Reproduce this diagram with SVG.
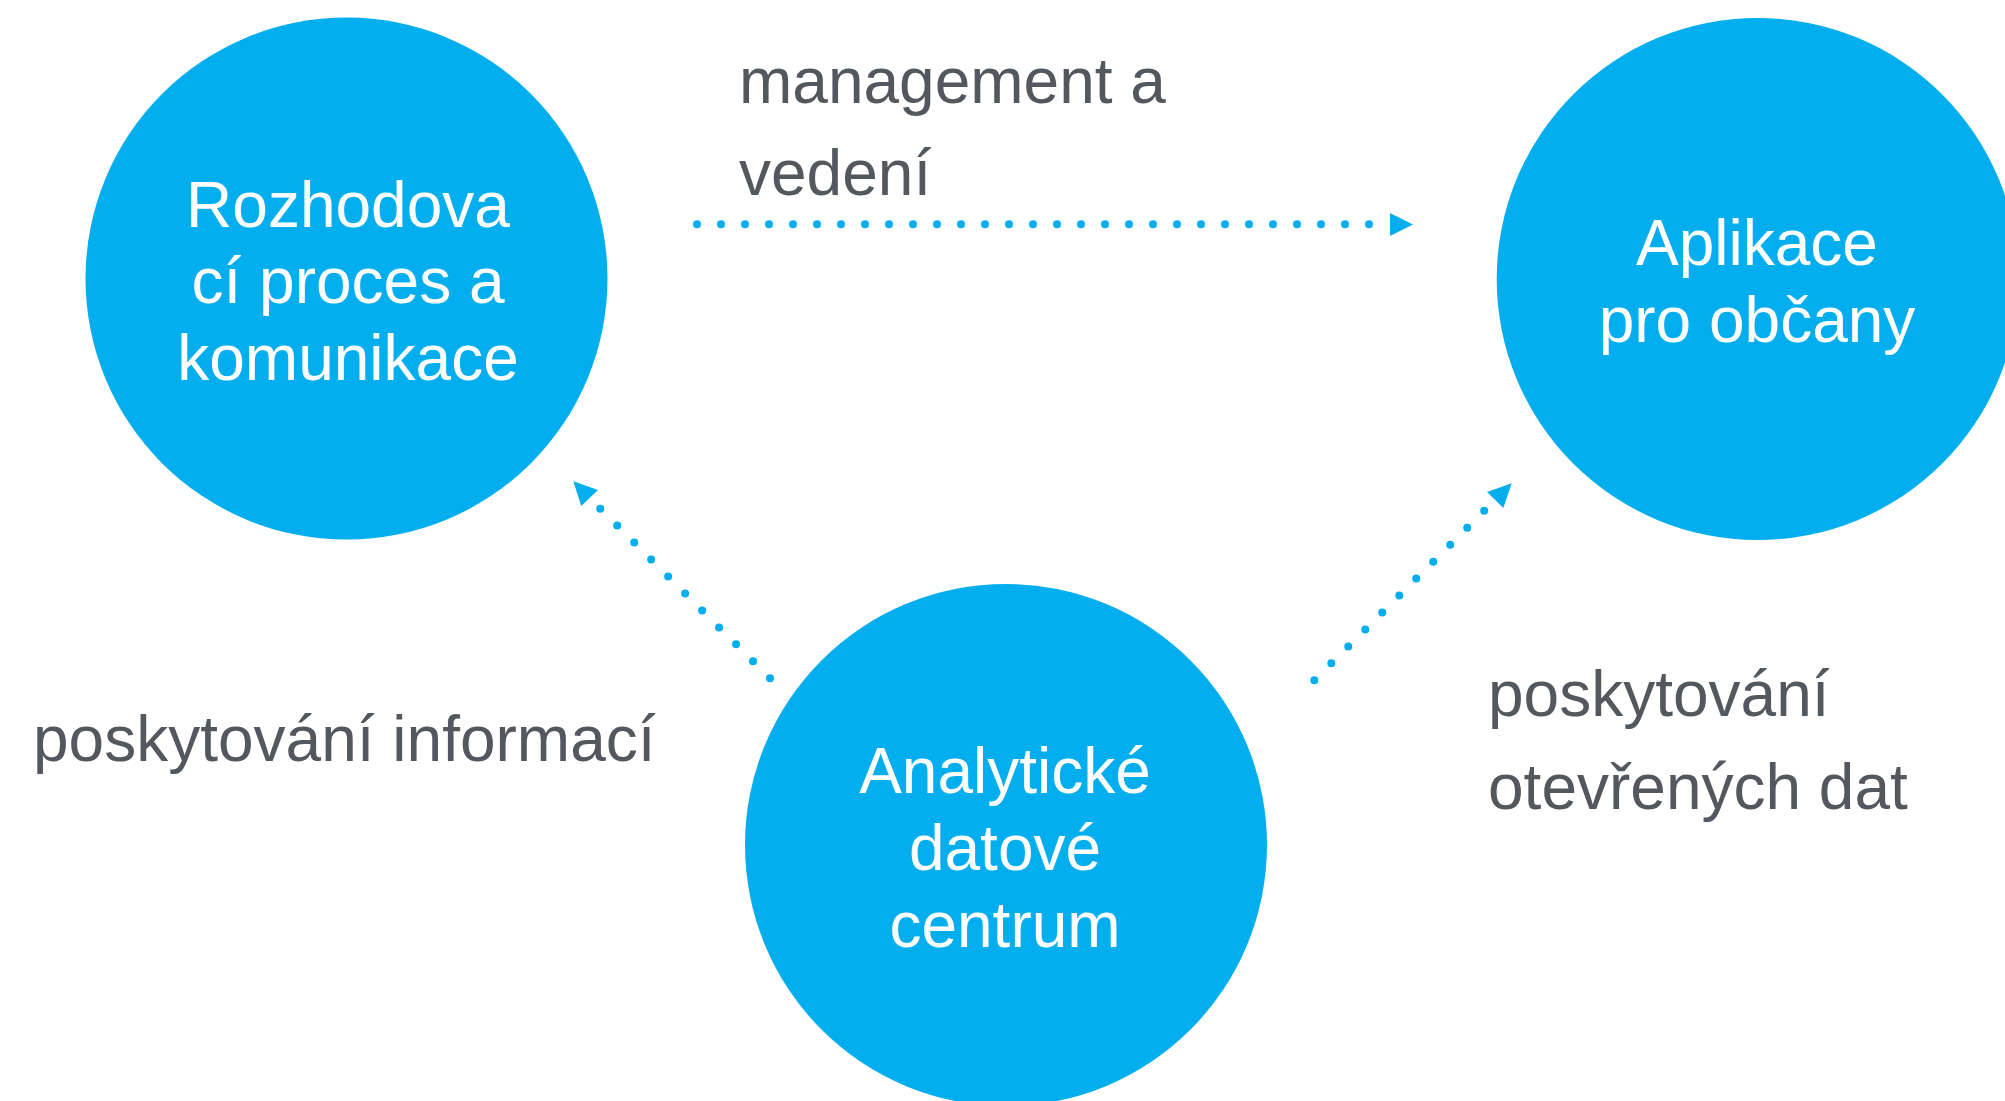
<svg xmlns="http://www.w3.org/2000/svg" width="2005" height="1101" viewBox="0 0 2005 1101">
<style>
.node{fill:#03AEEF}
.nt{font-family:"Liberation Sans",Arial,sans-serif;font-size:64px;fill:#ffffff;text-anchor:middle}
.lbl{font-family:"Liberation Sans",Arial,sans-serif;font-size:64px;fill:#53575E}
.dot{fill:none;stroke:#03AEEF;stroke-width:8;stroke-linecap:round;stroke-dasharray:0 24}
.head{fill:#03AEEF}
</style>
<rect width="2005" height="1101" fill="#ffffff"/>
<g id="node-rozhodovaci">
<circle class="node" cx="346.5" cy="278.6" r="261"/>
<text class="nt" x="348" y="226.5">Rozhodova</text>
<text class="nt" x="348" y="303">cí proces a</text>
<text class="nt" x="348" y="380">komunikace</text>
</g>
<g id="node-aplikace">
<circle class="node" cx="1757.7" cy="279" r="261"/>
<text class="nt" x="1757" y="265">Aplikace</text>
<text class="nt" x="1757" y="342">pro občany</text>
</g>
<g id="node-analyticke">
<circle class="node" cx="1006" cy="845" r="261"/>
<text class="nt" x="1005" y="793">Analytické</text>
<text class="nt" x="1005" y="870">datové</text>
<text class="nt" x="1005" y="947">centrum</text>
</g>
<g id="connectors">
<path class="dot" d="M697,224.3 L1370,224.3"/>
<polygon class="head" points="1390,213 1413,224.5 1390,236"/>
<path class="dot" d="M770,678.3 L599.6,508"/>
<polygon class="head" points="573.3,481.3 598,490 581.3,506"/>
<path class="dot" d="M1314.3,680.3 L1485,510"/>
<polygon class="head" points="1511.7,483.3 1487,492 1503.3,508"/>
</g>
<g id="labels">
<text class="lbl" x="739" y="103">management a</text>
<text class="lbl" x="739" y="195">vedení</text>
<text class="lbl" x="33" y="761">poskytování informací</text>
<text class="lbl" x="1488" y="716">poskytování</text>
<text class="lbl" x="1488" y="809">otevřených dat</text>
</g>
</svg>
